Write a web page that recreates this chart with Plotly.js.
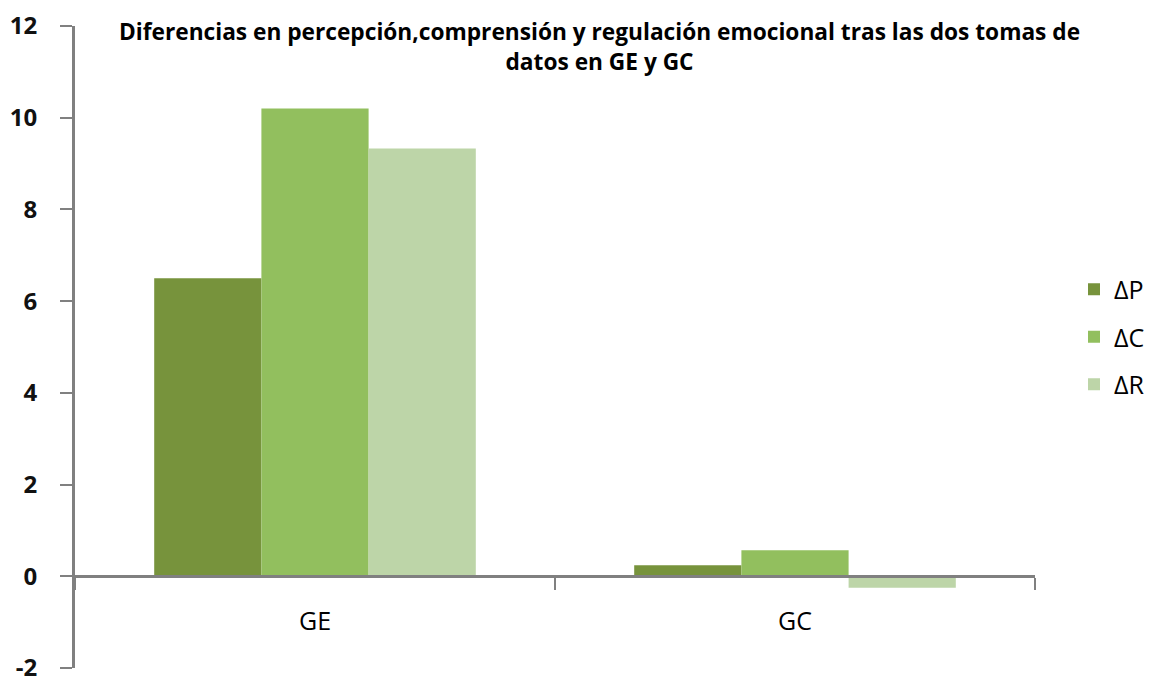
<!DOCTYPE html>
<html><head><meta charset="utf-8">
<script src="https://cdn.plot.ly/plotly-3.0.1.min.js"></script>
<style>body{margin:0;background:#fff}</style>
</head><body>
<div id="chart" style="width:1153px;height:679px"></div>
<script>
const categories = ["GE", "GC"];
const seriesNames = ["ΔP", "ΔC", "ΔR"];
const valuesP = [6.5, 0.24];
const valuesC = [10.2, 0.57];
const valuesR = [9.33, -0.25];
const colors = ["#77933c", "#92bf5e", "#bdd5a8"];
const yTicks = [-2, 0, 2, 4, 6, 8, 10, 12];

const allValues = [valuesP, valuesC, valuesR];
const traces = allValues.map((v, i) => ({
  type: "bar", x: categories, y: v, name: seriesNames[i], legendgroup: "g" + i,
  marker: {color: colors[i]}, hoverinfo: "none"
}));

const yTickFont = {size: 24, family: "'Open Sans', sans-serif", weight: "bold", color: "#111"};
const xTickFont = {size: 25, family: "'Open Sans', sans-serif", color: "#000"};
const layout = {
  width: 1153, height: 679,
  margin: {l: 75, r: 118, t: 26, b: 11, autoexpand: false},
  paper_bgcolor: "#fff", plot_bgcolor: "#fff",
  barmode: "group", bargap: 0.33, bargroupgap: 0,
  font: {family: "'Open Sans', sans-serif", color: "#000"},
  title: {
    text: "<b>Diferencias en percepción,comprensión y regulación emocional tras las dos tomas de<br>datos en GE y GC</b>",
    font: {size: 22.7, family: "'Open Sans', sans-serif", color: "#000"},
    xref: "container", x: 0.52, xanchor: "center",
    yref: "container", y: 1 - 40/679, yanchor: "middle"
  },
  xaxis: {
    type: "category", anchor: "free", position: 2/14,
    showline: true, linecolor: "#808080", linewidth: 3,
    ticks: "outside", tickson: "boundaries", ticklen: 12, tickwidth: 2, tickcolor: "#808080",
    ticklabelstandoff: 22,
    tickfont: xTickFont,
    showgrid: false, zeroline: false
  },
  yaxis: {
    range: [-2, 12], tickvals: yTicks, ticktext: yTicks.map(String),
    showline: true, linecolor: "#808080", linewidth: 3,
    ticks: "outside", ticklen: 12, tickwidth: 2, tickcolor: "#808080",
    ticklabelstandoff: 18, ticklabeloverflow: "allow",
    tickfont: yTickFont,
    showgrid: false, zeroline: false
  },
  legend: {
    xref: "container", x: 1074/1153, xanchor: "left",
    yref: "container", y: 1 - 337/679, yanchor: "middle",
    font: {size: 25, family: "'Open Sans', sans-serif", color: "#000"},
    traceorder: "grouped", tracegroupgap: 12, itemsizing: "constant"
  },
  showlegend: true
};
Plotly.newPlot("chart", traces, layout, {displayModeBar: false, staticPlot: true});
</script>
</body></html>
